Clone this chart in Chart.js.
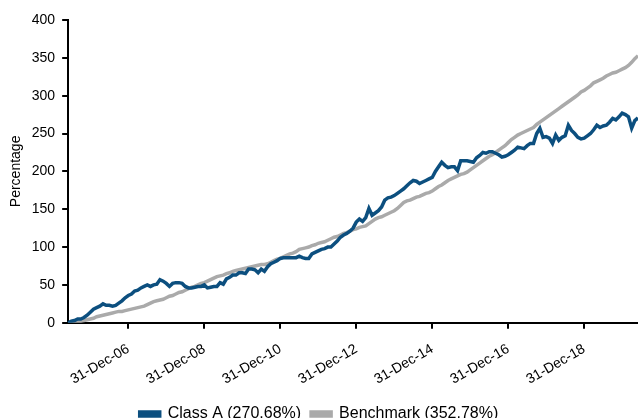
<!DOCTYPE html>
<html>
<head>
<meta charset="utf-8">
<script src="https://cdn.jsdelivr.net/npm/chart.js@4"></script>
<style>
  html, body { margin: 0; padding: 0; background: #fff; overflow: hidden; }
  #wrap { position: relative; width: 638px; height: 432px; }
</style>
</head>
<body>
<div id="wrap"><canvas id="perfChart"></canvas></div>
<script>
// month-end dates, 31-May-05 .. 31-May-20
const monthNames = ["Jan","Feb","Mar","Apr","May","Jun","Jul","Aug","Sep","Oct","Nov","Dec"];
const categories = [];
for (let i = 0; i < 181; i++) {
  const d = new Date(2005, 5 + i, 0);
  categories.push(d.getDate() + "-" + monthNames[d.getMonth()] + "-" + String(d.getFullYear()).slice(2));
}

const tickLabels = ["31-Dec-06", "31-Dec-08", "31-Dec-10", "31-Dec-12", "31-Dec-14", "31-Dec-16", "31-Dec-18"];

const classA = [
  0, 2, 3, 5, 5, 7, 10, 14, 18, 20,
  22, 25, 23, 23, 22, 23, 26, 29, 33, 36,
  38, 42, 43, 46, 48, 50, 48, 50, 51, 57,
  55, 52, 48, 52, 53, 53, 52, 48, 46, 46,
  47, 48, 48, 50, 46, 47, 48, 48, 53, 51,
  58, 60, 63, 63, 66, 66, 65, 71, 71, 70,
  66, 71, 68, 74, 78, 80, 82, 85, 86, 86,
  86, 86, 86, 88, 86, 85, 85, 91, 93, 95,
  97, 98, 100, 100, 104, 108, 113, 116, 118, 121,
  125, 133, 137, 134, 139, 151, 142, 145, 148, 153,
  162, 165, 166, 168, 171, 174, 177, 181, 185, 188,
  187, 184, 186, 188, 190, 192, 200, 206, 212, 208,
  205, 206, 206, 201, 214, 214, 214, 213, 212, 218,
  221, 225, 224, 226, 226, 224, 222, 219, 220, 222,
  225, 228, 232, 231, 230, 234, 237, 237, 250, 257,
  245, 246, 244, 237, 248, 241, 245, 247, 261, 254,
  250, 245, 243, 244, 247, 250, 255, 261, 258, 260,
  261, 265, 270, 268, 272, 277, 275, 272, 257, 267,
  270.68
];

const benchmark = [
  0, 0, 1, 2, 2, 3, 4, 5, 6, 8,
  9, 10, 11, 12, 13, 14, 15, 15, 16, 17,
  18, 19, 20, 21, 22, 24, 26, 28, 29, 30,
  31, 33, 35, 36, 38, 40, 41, 43, 45, 47,
  48, 50, 52, 53, 55, 57, 59, 61, 62, 63,
  65, 66, 68, 69, 70, 71, 72, 73, 74, 75,
  76, 77, 77, 78, 80, 82, 84, 85, 87, 89,
  91, 92, 94, 97, 98, 99, 100, 102, 103, 105,
  106, 107, 109, 111, 113, 114, 116, 118, 119, 121,
  123, 124, 126, 127, 128, 131, 134, 137, 139, 140,
  142, 144, 146, 148, 151, 155, 159, 161, 162, 164,
  166, 167, 169, 171, 172, 174, 177, 180, 182, 185,
  188, 190, 192, 194, 196, 197, 199, 202, 205, 208,
  211, 214, 217, 220, 222, 225, 228, 231, 234, 238,
  242, 245, 248, 250, 252, 254, 256, 258, 262, 265,
  268, 271, 274, 277, 280, 283, 286, 289, 292, 295,
  298, 301, 305, 307, 310, 313, 317, 319, 321, 323,
  326, 328, 330, 331, 333, 335, 337, 340, 344, 349,
  352.78
];

const seriesNames = ["Class A (270.68%)", "Benchmark (352.78%)"];
const blue = "#0c4f7f";
const grey = "#aaaaaa";

Chart.defaults.font.family = "'Liberation Sans', Arial, sans-serif";
Chart.defaults.color = "#000";

new Chart(document.getElementById("perfChart"), {
  type: "line",
  data: {
    labels: categories,
    datasets: [
      {
        label: seriesNames[0],
        data: classA,
        borderColor: blue,
        backgroundColor: blue,
        borderWidth: 3.5,
        pointRadius: 0,
        tension: 0
      },
      {
        label: seriesNames[1],
        data: benchmark,
        borderColor: grey,
        backgroundColor: grey,
        borderWidth: 3.5,
        pointRadius: 0,
        tension: 0
      }
    ]
  },
  options: {
    responsive: true,
    maintainAspectRatio: false,
    animation: false,
    layout: { padding: { top: 20, right: 0, left: 0, bottom: 0 } },
    scales: {
      x: {
        offset: false,
        border: { color: "#000", width: 2 },
        grid: { drawOnChartArea: false, color: "#000", tickLength: 6, lineWidth: 2 },
        ticks: {
          autoSkip: false,
          minRotation: 30,
          maxRotation: 30,
          padding: 12,
          font: { size: 14 },
          callback: function(val) {
            const lbl = this.getLabelForValue(val);
            return tickLabels.includes(lbl) ? lbl : null;
          }
        },
        afterFit: function(scale) { scale.height -= 4; }
      },
      y: {
        min: 0,
        max: 400,
        border: { color: "#000", width: 2 },
        grid: { drawOnChartArea: false, color: "#000", tickLength: 6, lineWidth: 2 },
        ticks: { stepSize: 50, padding: 7, font: { size: 14 } },
        title: { display: true, text: "Percentage", font: { size: 14 }, padding: { top: 8, bottom: 0 } }
      }
    },
    plugins: {
      legend: {
        position: "bottom",
        labels: { boxWidth: 20, boxHeight: 4, padding: 10, font: { size: 16 } }
      },
      tooltip: { enabled: false }
    }
  }
});
</script>
</body>
</html>
